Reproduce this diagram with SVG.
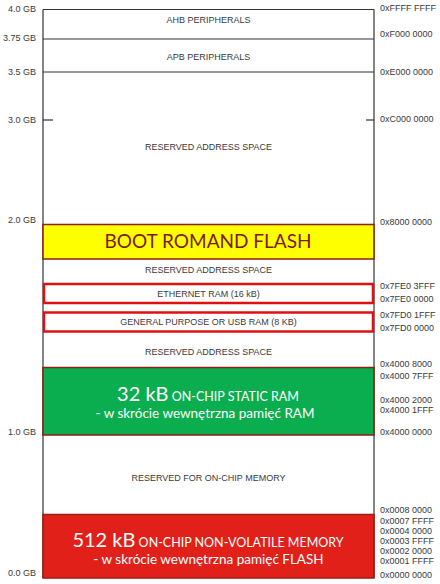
<svg xmlns="http://www.w3.org/2000/svg" width="440" height="584" viewBox="0 0 440 584">
<style>
.lbl{font-family:"Liberation Sans",Arial,sans-serif;font-size:9px;fill:#3a3a3a}
.l{text-anchor:end}
.c{text-anchor:middle}
.ln{stroke:#333;stroke-width:1.2;fill:none}
.cal{font-family:Lato,"Open Sans",sans-serif}
.w{fill:#fff}
</style>
<rect width="440" height="584" fill="#fff"/>
<g id="axes">
<line class="ln" x1="43" y1="9.5" x2="43" y2="578"/>
<line class="ln" x1="374" y1="9.5" x2="374" y2="578"/>
</g>
<g id="connectors">
<line class="ln" x1="43" y1="9.5" x2="374" y2="9.5"/>
<line class="ln" x1="43" y1="39" x2="374" y2="39"/>
<line class="ln" x1="43" y1="72" x2="374" y2="72"/>
<line class="ln" x1="43" y1="120" x2="53" y2="120"/>
<line class="ln" x1="366" y1="120" x2="374" y2="120"/>
</g>
<g id="left-labels" class="lbl l">
<text x="36" y="12">4.0 GB</text>
<text x="36" y="41">3.75 GB</text>
<text x="36" y="75">3.5 GB</text>
<text x="36" y="123">3.0 GB</text>
<text x="36" y="223">2.0 GB</text>
<text x="36" y="435">1.0 GB</text>
<text x="36" y="576">0.0 GB</text>
</g>
<g id="right-labels" class="lbl">
<text x="380" y="11">0xFFFF FFFF</text>
<text x="380" y="37">0xF000 0000</text>
<text x="380" y="75">0xE000 0000</text>
<text x="380" y="122">0xC000 0000</text>
<text x="380" y="225">0x8000 0000</text>
<text x="380" y="289">0x7FE0 3FFF</text>
<text x="380" y="302">0x7FE0 0000</text>
<text x="380" y="318">0x7FD0 1FFF</text>
<text x="380" y="331">0x7FD0 0000</text>
<text x="380" y="367">0x4000 8000</text>
<text x="380" y="379">0x4000 7FFF</text>
<text x="380" y="403">0x4000 2000</text>
<text x="380" y="413">0x4000 1FFF</text>
<text x="380" y="435">0x4000 0000</text>
<text x="380" y="513">0x0008 0000</text>
<text x="380" y="524">0x0007 FFFF</text>
<text x="380" y="534">0x0004 0000</text>
<text x="380" y="544">0x0003 FFFF</text>
<text x="380" y="554">0x0002 0000</text>
<text x="380" y="564">0x0001 FFFF</text>
<text x="380" y="578">0x0000 0000</text>
</g>
<g id="ahb"><text class="lbl c" x="208.5" y="23">AHB PERIPHERALS</text></g>
<g id="apb"><text class="lbl c" x="208.5" y="60">APB PERIPHERALS</text></g>
<g id="reserved1"><text class="lbl c" x="208.5" y="150">RESERVED ADDRESS SPACE</text></g>
<g id="boot">
<rect x="43" y="224.5" width="331" height="34.5" fill="#ffff00" stroke="#8b1f12" stroke-width="1.5"/>
<text class="cal" x="208" y="248" text-anchor="middle" font-size="19" fill="#7a1c0c">BOOT ROMAND FLASH</text>
</g>
<g id="reserved2"><text class="lbl c" x="208.5" y="273">RESERVED ADDRESS SPACE</text></g>
<g id="ethernet">
<rect x="44" y="284" width="329" height="19" fill="#fff" stroke="#e01010" stroke-width="2.5"/>
<text class="lbl c" x="208.5" y="296.5">ETHERNET RAM (16 kB)</text>
</g>
<g id="gp">
<rect x="44" y="312.5" width="329" height="19" fill="#fff" stroke="#e01010" stroke-width="2.5"/>
<text class="lbl c" x="208.5" y="325">GENERAL PURPOSE OR USB RAM (8 KB)</text>
</g>
<g id="reserved3"><text class="lbl c" x="208.5" y="355">RESERVED ADDRESS SPACE</text></g>
<g id="sram">
<rect x="43" y="367.5" width="331" height="67.5" fill="#0aae4e" stroke="#8b1f12" stroke-width="1.5"/>
<text class="cal w" x="208" y="401" text-anchor="middle"><tspan font-size="20">32 kB</tspan><tspan font-size="12.5"> ON-CHIP STATIC RAM</tspan></text>
<text class="cal w" x="205" y="418" text-anchor="middle" font-size="13.5">- w skrócie wewnętrzna pamięć RAM</text>
</g>
<g id="reserved4"><text class="lbl c" x="208.5" y="481">RESERVED FOR ON-CHIP MEMORY</text></g>
<g id="flash">
<rect x="43" y="514.5" width="331" height="63.5" fill="#e2201a" stroke="#a01810" stroke-width="1.5"/>
<text class="cal w" x="208" y="547" text-anchor="middle"><tspan font-size="20">512 kB</tspan><tspan font-size="12.5"> ON-CHIP NON-VOLATILE MEMORY</tspan></text>
<text class="cal w" x="208.5" y="564" text-anchor="middle" font-size="13.5">- w skrócie wewnętrzna pamięć FLASH</text>
</g>
</svg>
